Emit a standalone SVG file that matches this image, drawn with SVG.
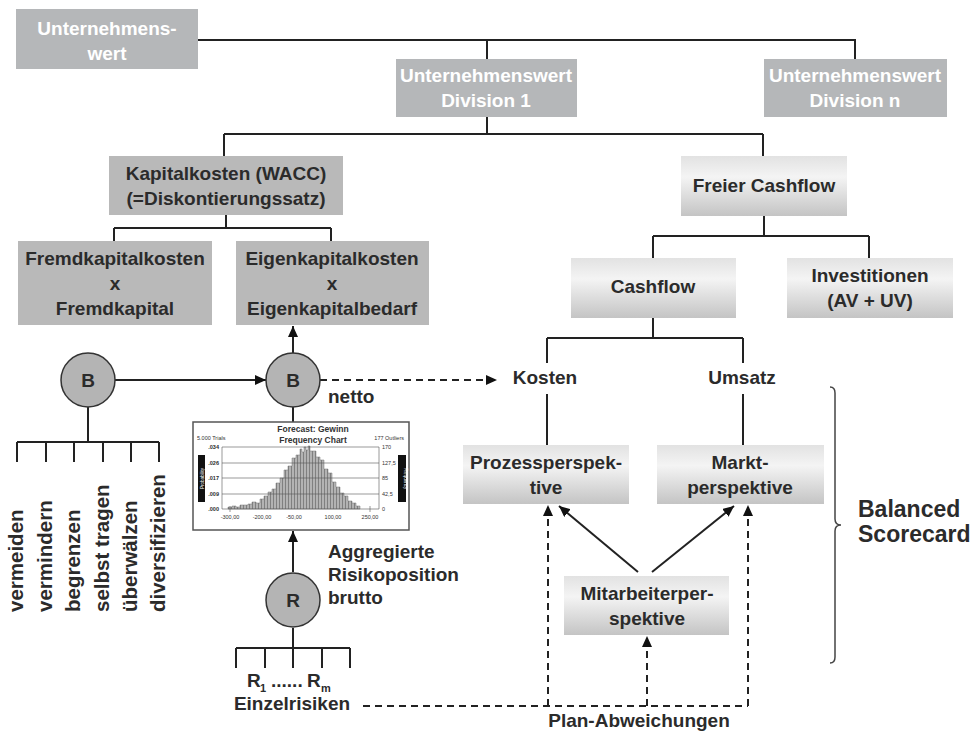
<svg xmlns="http://www.w3.org/2000/svg" width="976" height="731" viewBox="0 0 976 731">
<style>
text{font-family:"Liberation Sans",Arial,sans-serif;font-weight:bold;fill:#2b2b2b}
.t{font-size:19px;text-anchor:middle}
.w{fill:#ffffff}
.l{font-size:19px}
.v{font-size:20.5px}
.g1{fill:#b5b7b9}
.g2{fill:#b9b9b9}
.gr{fill:url(#grad)}
.ln{fill:none;stroke:#222;stroke-width:2}
.ds{fill:none;stroke:#222;stroke-width:2;stroke-dasharray:7,5}
.ar{marker-end:url(#arr)}
.circ{fill:#b4b4b4;stroke:#333;stroke-width:1.5}
.tiny{font-size:5.5px;fill:#333;font-weight:normal}
.ttl{font-size:8.5px;text-anchor:middle;fill:#333}
</style>
<defs>
<linearGradient id="grad" x1="0" y1="0" x2="0" y2="1">
<stop offset="0" stop-color="#e2e2e2"/>
<stop offset="0.35" stop-color="#f4f4f4"/>
<stop offset="1" stop-color="#c4c4c4"/>
</linearGradient>
<marker id="arr" markerUnits="userSpaceOnUse" markerWidth="11" markerHeight="10" refX="11" refY="5" orient="auto">
<path d="M0,0 L11,5 L0,10 Z" fill="#111"/>
</marker>
<pattern id="bars" patternUnits="userSpaceOnUse" width="3" height="10">
<rect width="3" height="10" fill="#b3b3b3"/>
<line x1="0.5" y1="0" x2="0.5" y2="10" stroke="#6a6a6a" stroke-width="0.7"/>
</pattern>
</defs>
<rect width="976" height="731" fill="#ffffff"/>

<g id="connectors">
<path class="ln" d="M198,40 H855 V59 M487,40 V59"/>
<path class="ln" d="M487,117 V134 M224,134 H763 M224,134 V156 M763,134 V156"/>
<path class="ln" d="M226,215 V228 M114,228 H331 M114,228 V241 M331,228 V241"/>
<path class="ln" d="M764,216 V236 M653,236 H869 M653,236 V258 M869,236 V258"/>
<path class="ln" d="M653,318 V338 M547,338 H743 M547,338 V363 M743,338 V363"/>
<path class="ln" d="M547,394 V445 M743,394 V445"/>
<path class="ln" d="M88,407 V442 M17,442 H159 M17,442 V462 M46,442 V462 M74,442 V462 M103,442 V462 M131,442 V462 M159,442 V462"/>
<path class="ln ar" d="M115,380 H266"/>
<path class="ln ar" d="M293,353 V326"/>
<path class="ds ar" d="M320,380 H497"/>
<path class="ln" d="M293,407 V422"/>
<path class="ln ar" d="M293,572 V531"/>
<path class="ln" d="M293,628 V648 M236,648 H350 M236,648 V668 M265,648 V668 M293,648 V668 M322,648 V668 M350,648 V668"/>
<path class="ds" d="M363,706 H748"/>
<path class="ds ar" d="M548,706 V505"/>
<path class="ds ar" d="M647,706 V636"/>
<path class="ds ar" d="M748,706 V505"/>
<path class="ln ar" d="M638,572 L559,506"/>
<path class="ln ar" d="M652,572 L734,506"/>
<path d="M830,387 Q835,387 835,393 V519 Q835,525 841,525 Q835,525 835,531 V657 Q835,663 830,663" fill="none" stroke="#444" stroke-width="1.5"/>
</g>

<g id="n-unternehmenswert">
<rect class="g1" x="16" y="9" width="182" height="60"/>
<text class="t w" x="107" y="35">Unternehmens-</text>
<text class="t w" x="107" y="60">wert</text>
</g>
<g id="n-division1">
<rect class="g1" x="396" y="59" width="181" height="58"/>
<text class="t w" x="486" y="82">Unternehmenswert</text>
<text class="t w" x="486" y="107">Division 1</text>
</g>
<g id="n-divisionn">
<rect class="g1" x="764" y="59" width="183" height="58"/>
<text class="t w" x="855" y="82">Unternehmenswert</text>
<text class="t w" x="855" y="107">Division n</text>
</g>
<g id="n-kapitalkosten">
<rect class="g2" x="109" y="156" width="234" height="59"/>
<text class="t" x="226" y="180">Kapitalkosten (WACC)</text>
<text class="t" x="226" y="205">(=Diskontierungssatz)</text>
</g>
<g id="n-freiercashflow">
<rect class="gr" x="681" y="156" width="166" height="60"/>
<text class="t" x="764" y="192">Freier Cashflow</text>
</g>
<g id="n-fremdkapital">
<rect class="g2" x="18" y="241" width="194" height="84"/>
<text class="t" x="115" y="265">Fremdkapitalkosten</text>
<text class="t" x="115" y="290">x</text>
<text class="t" x="115" y="315">Fremdkapital</text>
</g>
<g id="n-eigenkapital">
<rect class="g2" x="236" y="241" width="193" height="84"/>
<text class="t" x="332" y="265">Eigenkapitalkosten</text>
<text class="t" x="332" y="290">x</text>
<text class="t" x="332" y="315">Eigenkapitalbedarf</text>
</g>
<g id="n-cashflow">
<rect class="gr" x="571" y="258" width="165" height="60"/>
<text class="t" x="653" y="293">Cashflow</text>
</g>
<g id="n-investitionen">
<rect class="gr" x="787" y="258" width="166" height="60"/>
<text class="t" x="870" y="282">Investitionen</text>
<text class="t" x="870" y="307">(AV + UV)</text>
</g>
<g id="n-kosten"><text class="t" x="545" y="384">Kosten</text></g>
<g id="n-umsatz"><text class="t" x="742" y="384">Umsatz</text></g>
<g id="n-prozess">
<rect class="gr" x="463" y="445" width="166" height="59"/>
<text class="t" x="546" y="469">Prozessperspek-</text>
<text class="t" x="546" y="494">tive</text>
</g>
<g id="n-markt">
<rect class="gr" x="657" y="445" width="167" height="59"/>
<text class="t" x="740" y="469">Markt-</text>
<text class="t" x="740" y="494">perspektive</text>
</g>
<g id="n-mitarbeiter">
<rect class="gr" x="564" y="576" width="165" height="59"/>
<text class="t" x="647" y="600">Mitarbeiterper-</text>
<text class="t" x="647" y="625">spektive</text>
</g>
<g id="n-balanced">
<text x="858" y="517" style="font-size:23px">Balanced</text>
<text x="858" y="542" style="font-size:23px">Scorecard</text>
</g>
<g id="n-b-left">
<circle class="circ" cx="88" cy="380" r="27"/>
<text class="t" x="88" y="387">B</text>
</g>
<g id="n-b-right">
<circle class="circ" cx="293" cy="380" r="27"/>
<text class="t" x="293" y="387">B</text>
<text class="l" x="328" y="403">netto</text>
</g>
<g id="n-measures">
<text class="v" transform="translate(23,612) rotate(-90)">vermeiden</text>
<text class="v" transform="translate(52,612) rotate(-90)">vermindern</text>
<text class="v" transform="translate(80,612) rotate(-90)">begrenzen</text>
<text class="v" transform="translate(109,612) rotate(-90)">selbst tragen</text>
<text class="v" transform="translate(137,612) rotate(-90)">überwälzen</text>
<text class="v" transform="translate(165,612) rotate(-90)">diversifizieren</text>
</g>
<g id="n-chart">
<rect x="193" y="422" width="216" height="108" fill="#ffffff" stroke="#555" stroke-width="1.5"/>
<text class="ttl" x="313" y="432">Forecast: Gewinn</text>
<text class="ttl" x="313" y="443">Frequency Chart</text>
<text class="tiny" x="197" y="440">5.000 Trials</text>
<text class="tiny" x="404" y="440" text-anchor="end">177 Outliers</text>
<path d="M228,509 V507 H232 V506 H236 V507 H240 V505 H244 V505 H248 V504 H252 V502 H256 V503 H260 V499 H264 V496 H268 V492 H272 V489 H276 V483 H280 V478 H284 V470 H288 V466 H292 V458 H296 V455 H300 V449 H302 V452 H304 V447 H306 V450 H308 V446 H310 V451 H312 V451 H316 V457 H320 V460 H324 V469 H328 V473 H332 V482 H336 V487 H340 V493 H344 V496 H348 V501 H352 V503 H356 V506 H360 V509 Z" fill="url(#bars)" stroke="#777" stroke-width="0.5"/>
<g stroke="#555" stroke-width="0.6">
<line x1="222" y1="447" x2="379" y2="447"/>
<line x1="222" y1="463" x2="379" y2="463"/>
<line x1="222" y1="478" x2="379" y2="478"/>
<line x1="222" y1="494" x2="379" y2="494"/>
<line x1="222" y1="509" x2="379" y2="509"/>
<line x1="222" y1="447" x2="222" y2="509"/>
<line x1="379" y1="447" x2="379" y2="509"/>
<line x1="230" y1="506" x2="230" y2="512"/>
<line x1="370" y1="506" x2="370" y2="512"/>
</g>
<g class="tiny" text-anchor="end">
<text x="219" y="449" text-anchor="end">.034</text>
<text x="219" y="465" text-anchor="end">.026</text>
<text x="219" y="480" text-anchor="end">.017</text>
<text x="219" y="496" text-anchor="end">.009</text>
<text x="219" y="511" text-anchor="end">.000</text>
</g>
<text class="tiny" x="382" y="449">170</text>
<text class="tiny" x="382" y="465">127,5</text>
<text class="tiny" x="382" y="480">85</text>
<text class="tiny" x="382" y="496">42,5</text>
<text class="tiny" x="382" y="511">0</text>
<text class="tiny" x="230" y="519" text-anchor="middle">-300,00</text>
<text class="tiny" x="262" y="519" text-anchor="middle">-200,00</text>
<text class="tiny" x="294" y="519" text-anchor="middle">-50,00</text>
<text class="tiny" x="333" y="519" text-anchor="middle">100,00</text>
<text class="tiny" x="370" y="519" text-anchor="middle">250,00</text>
<rect x="198" y="455" width="7" height="47" fill="#111"/>
<rect x="398" y="455" width="8" height="47" fill="#111"/>
<text transform="translate(203.5,478.5) rotate(-90)" style="font-size:4.5px;fill:#fff;text-anchor:middle;font-weight:normal">Probability</text>
<text transform="translate(403.5,478.5) rotate(90)" style="font-size:4.5px;fill:#fff;text-anchor:middle;font-weight:normal">Frequency</text>
</g>
<g id="n-r">
<circle class="circ" cx="293" cy="600" r="27"/>
<text class="t" x="293" y="607">R</text>
<text class="l" x="328" y="558">Aggregierte</text>
<text class="l" x="328" y="581">Risikoposition</text>
<text class="l" x="328" y="604">brutto</text>
</g>
<g id="n-einzelrisiken">
<text class="l" x="247" y="687">R</text>
<text x="260" y="692" style="font-size:11px">1</text>
<text class="l" x="271" y="687">......</text>
<text class="l" x="307" y="687">R</text>
<text x="321" y="692" style="font-size:11px">m</text>
<text class="t" x="292" y="710">Einzelrisiken</text>
</g>
<g id="n-planabweichungen">
<text class="t" x="639" y="727">Plan-Abweichungen</text>
</g>
</svg>
